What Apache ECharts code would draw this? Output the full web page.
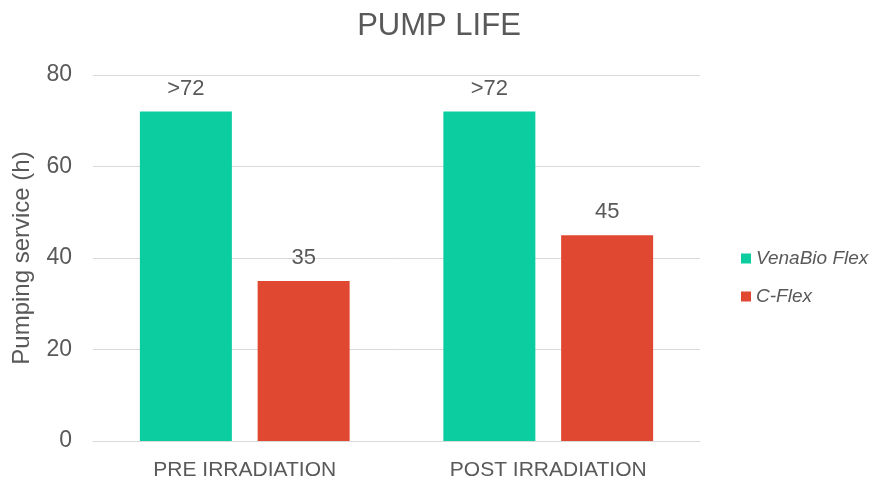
<!DOCTYPE html>
<html>
<head>
<meta charset="utf-8">
<script src="https://cdn.jsdelivr.net/npm/echarts@6/dist/echarts.min.js"></script>
<style>
  html, body { margin: 0; padding: 0; background: #fff; }
  #container { width: 875px; height: 486px; }
</style>
</head>
<body>
<div id="container"></div>
<script>
var categories = ['PRE IRRADIATION', 'POST IRRADIATION'];
var venaBio = [72, 72];
var venaBioLabels = ['>72', '>72'];
var cFlex = [35, 45];
var cFlexLabels = ['35', '45'];

var chart = echarts.init(document.getElementById('container'));
var textColor = '#595959';
var font = '"Liberation Sans", Arial, sans-serif';

var option = {
    animation: false,
    textStyle: { fontFamily: font },
    title: {
        text: 'PUMP LIFE',
        left: 434,
        top: 6,
        textAlign: 'center',
        textStyle: { color: textColor, fontSize: 31, fontWeight: 'normal', fontFamily: font }
    },
    legend: {
        orient: 'vertical',
        left: 736,
        top: 244,
        itemWidth: 10,
        itemHeight: 10,
        itemGap: 19,
        icon: 'rect',
        textStyle: { color: textColor, fontSize: 19, fontStyle: 'italic', fontFamily: font },
        data: ['VenaBio Flex', 'C-Flex']
    },
    grid: { left: 93, right: 175, top: 75, bottom: 45 },
    xAxis: {
        type: 'category',
        data: categories,
        axisTick: { show: false },
        axisLine: { lineStyle: { color: '#d9d9d9' } },
        axisLabel: { color: textColor, fontSize: 21, margin: 19, fontFamily: font }
    },
    yAxis: {
        type: 'value',
        min: 0,
        max: 80,
        interval: 20,
        name: 'Pumping service (h)',
        nameLocation: 'middle',
        nameGap: 59,
        nameTextStyle: { color: textColor, fontSize: 24, fontFamily: font },
        axisLabel: { color: textColor, fontSize: 23, margin: 21, fontFamily: font },
        splitLine: { lineStyle: { color: '#d9d9d9' } }
    },
    series: [
        {
            name: 'VenaBio Flex',
            type: 'bar',
            data: venaBio,
            barWidth: 92,
            barGap: '28%',
            itemStyle: { color: '#0BCDA0' },
            label: {
                show: true,
                position: 'top',
                distance: 12,
                color: textColor,
                fontSize: 22,
                fontFamily: font,
                formatter: function (p) { return venaBioLabels[p.dataIndex]; }
            }
        },
        {
            name: 'C-Flex',
            type: 'bar',
            data: cFlex,
            barWidth: 92,
            itemStyle: { color: '#E04832' },
            label: {
                show: true,
                position: 'top',
                distance: 12,
                color: textColor,
                fontSize: 22,
                fontFamily: font,
                formatter: function (p) { return cFlexLabels[p.dataIndex]; }
            }
        }
    ]
};

chart.setOption(option);
</script>
</body>
</html>
